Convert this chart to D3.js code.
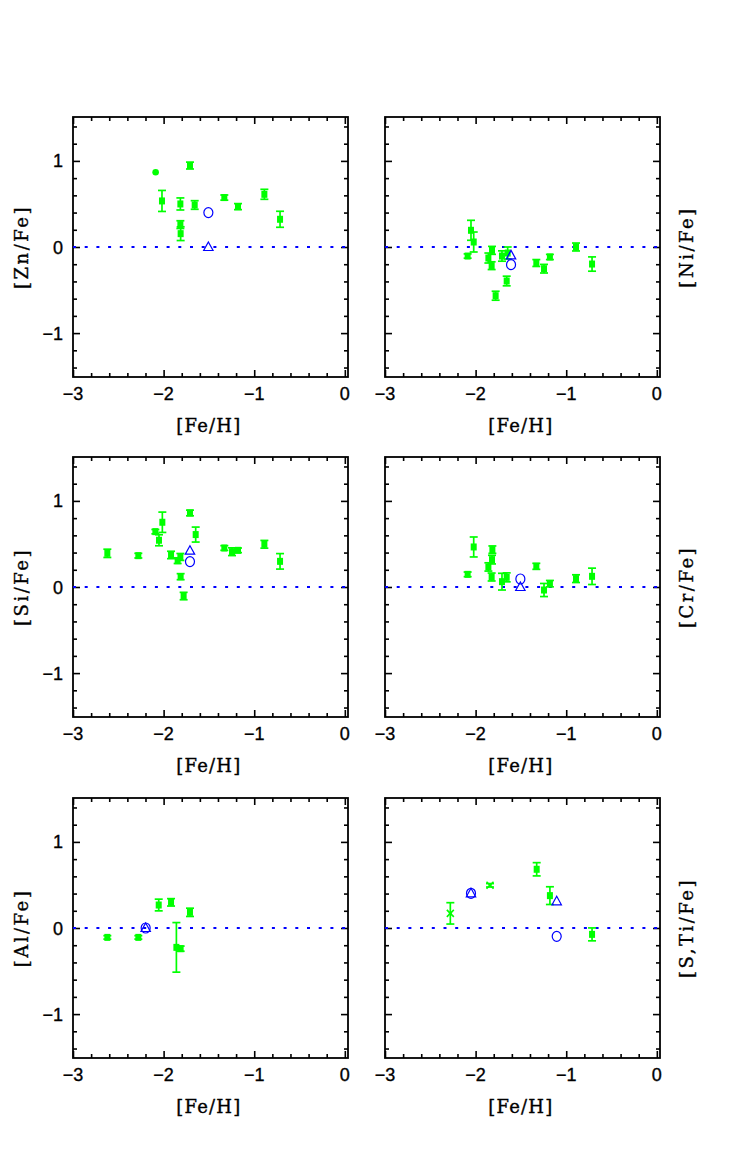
<!DOCTYPE html>
<html><head><meta charset="utf-8">
<script src="https://cdn.jsdelivr.net/npm/d3@7"></script>
<style>body{margin:0;background:#fff}svg{display:block}</style>
</head><body>
<script>
// ---- data: [ [Fe/H], [X/Fe], error ] ----
const xTicks = [-3, -2, -1, 0];
const yTicks = [-1, 0, 1];
const yLabels = ["[Zn/Fe]", "[Ni/Fe]", "[Si/Fe]", "[Cr/Fe]", "[Al/Fe]", "[S,Ti/Fe]"];

const znFe = [[-2.018,0.535,0.122],[-1.815,0.50,0.07],[-1.815,0.26,0.045],[-1.812,0.155,0.08],[-1.709,0.946,0.04],[-1.657,0.488,0.05],[-1.33,0.574,0.03],[-1.179,0.469,0.035],[-0.888,0.612,0.058],[-0.715,0.322,0.093]];
const znFeDot = [[-2.088,0.868]];
const znCircle = [[-1.506,0.40]];
const znTriangle = [[-1.506,0.0]];

const niFe = [[-2.088,-0.105,0.025],[-2.051,0.194,0.116],[-2.021,0.058,0.116],[-1.859,-0.128,0.058],[-1.819,-0.039,0.046],[-1.823,-0.217,0.045],[-1.779,-0.566,0.052],[-1.709,-0.105,0.06],[-1.657,-0.395,0.056],[-1.646,-0.07,0.07],[-1.33,-0.186,0.04],[-1.245,-0.252,0.05],[-1.18,-0.116,0.03],[-0.892,0.0,0.046],[-0.715,-0.198,0.083]];
const niCircle = [[-1.609,-0.205]];
const niTriangle = [[-1.609,-0.097]];

const siFe = [[-2.621,0.391,0.048],[-2.279,0.364,0.027],[-2.091,0.643,0.025],[-2.051,0.543,0.064],[-2.014,0.752,0.118],[-1.918,0.372,0.043],[-1.845,0.306,0.033],[-1.815,0.349,0.04],[-1.812,0.12,0.035],[-1.779,-0.105,0.043],[-1.709,0.86,0.033],[-1.646,0.609,0.087],[-1.33,0.453,0.027],[-1.245,0.41,0.045],[-1.179,0.426,0.027],[-0.888,0.496,0.045],[-0.715,0.298,0.09]];
const siCircle = [[-1.709,0.295]];
const siTriangle = [[-1.709,0.422]];

const crFe = [[-2.088,0.147,0.027],[-2.021,0.465,0.116],[-1.859,0.233,0.048],[-1.815,0.434,0.043],[-1.819,0.318,0.05],[-1.823,0.116,0.046],[-1.709,0.062,0.097],[-1.657,0.112,0.052],[-1.33,0.24,0.035],[-1.245,-0.035,0.076],[-1.18,0.039,0.037],[-0.892,0.097,0.045],[-0.715,0.124,0.095]];
const crCircle = [[-1.506,0.093]];
const crTriangle = [[-1.506,0.0]];

const alFe = [[-2.621,-0.109,0.02],[-2.279,-0.109,0.02],[-2.054,0.267,0.068],[-1.918,0.298,0.043],[-1.859,-0.225,0.288],[-1.812,-0.24,0.03],[-1.709,0.182,0.048]];
const alCircle = [[-2.198,0.0]];
const alTriangle = [[-2.198,0.0]];

const stiFe = [[-1.326,0.682,0.077],[-1.18,0.376,0.103],[-0.715,-0.074,0.075]];
const stiCross = [[-2.279,0.17,0.124],[-1.841,0.496,0.02]];
const stiCircle = [[-2.051,0.403],[-1.105,-0.097]];
const stiTriangle = [[-2.051,0.403],[-1.105,0.31]];

const panelData = [
  {sq: znFe, dot: znFeDot, circ: znCircle, tri: znTriangle, cross: []},
  {sq: niFe, dot: [], circ: niCircle, tri: niTriangle, cross: []},
  {sq: siFe, dot: [], circ: siCircle, tri: siTriangle, cross: []},
  {sq: crFe, dot: [], circ: crCircle, tri: crTriangle, cross: []},
  {sq: alFe, dot: [], circ: alCircle, tri: alTriangle, cross: []},
  {sq: stiFe, dot: [], circ: stiCircle, tri: stiTriangle, cross: stiCross}
];

// ---- layout ----
const W = 734, H = 1176;
const colLeft = [73, 385], pw = 275, ph = 260;
const rowTop = [117, 457, 798];
const GREEN = "#00ff00", BLUE = "#0000ff";
const TXT = "'DejaVu Serif', serif";
const NUM = "'Liberation Sans', Arial, sans-serif";

const svg = d3.select("body").append("svg").attr("width", W).attr("height", H);

panelData.forEach((pd, i) => {
  const col = i % 2, row = Math.floor(i / 2);
  const x0 = colLeft[col], y0 = rowTop[row];
  const g = svg.append("g").attr("transform", `translate(${x0},${y0})`);
  const x = d3.scaleLinear().domain([-3, 0.035]).range([0, pw]);
  const y = d3.scaleLinear().domain([-1.51, 1.51]).range([ph, 0]);

  const xMinor = d3.range(-3, 0.0001, 0.2).map(v => +v.toFixed(2)).filter(v => !xTicks.some(t => Math.abs(t - v) < 1e-6));
  const yMinor = d3.range(-1.4, 1.4001, 0.2).map(v => +v.toFixed(2)).filter(v => !yTicks.some(t => Math.abs(t - v) < 1e-6));

  const mk = (axis, tr) => g.append("g").attr("transform", tr).call(axis)
      .call(s => { s.select(".domain").remove(); s.selectAll("line").attr("stroke", "#000").attr("stroke-width", 1.6); s.selectAll("text").remove(); });
  mk(d3.axisBottom(x).tickValues(xTicks).tickSize(-7), `translate(0,${ph})`);
  mk(d3.axisBottom(x).tickValues(xMinor).tickSize(-4), `translate(0,${ph})`);
  mk(d3.axisTop(x).tickValues(xTicks).tickSize(-7), `translate(0,0)`);
  mk(d3.axisTop(x).tickValues(xMinor).tickSize(-4), `translate(0,0)`);
  mk(d3.axisLeft(y).tickValues(yTicks).tickSize(-7), `translate(0,0)`);
  mk(d3.axisLeft(y).tickValues(yMinor).tickSize(-4), `translate(0,0)`);
  mk(d3.axisRight(y).tickValues(yTicks).tickSize(-7), `translate(${pw},0)`);
  mk(d3.axisRight(y).tickValues(yMinor).tickSize(-4), `translate(${pw},0)`);

  g.append("rect").attr("width", pw).attr("height", ph).attr("fill", "none").attr("stroke", "#000").attr("stroke-width", 1.8);

  const txtStyle = s => s.attr("fill", "#000").attr("stroke", "#000").attr("stroke-width", 0.35);

  g.selectAll(".xl").data(xTicks).enter().append("text")
    .attr("x", d => x(d)).attr("y", ph + 23).attr("text-anchor", "middle")
    .attr("font-family", NUM).attr("font-size", 18).call(txtStyle)
    .text(d => d < 0 ? "\u2212" + Math.abs(d) : d);
  if (col === 0) {
    g.selectAll(".yl").data(yTicks).enter().append("text")
      .attr("x", -10).attr("y", d => y(d) + 6.5).attr("text-anchor", "end")
      .attr("font-family", NUM).attr("font-size", 18).call(txtStyle)
      .text(d => d < 0 ? "\u2212" + Math.abs(d) : d);
  }
  g.append("text").attr("x", x(-1.5)).attr("y", ph + 55).attr("text-anchor", "middle")
    .attr("font-family", TXT).attr("font-size", 18).attr("letter-spacing", 1.2).call(txtStyle).text("[Fe/H]");
  const tx = col === 0 ? -45 : pw + 33;
  g.append("text").attr("transform", `translate(${tx},${ph / 2}) rotate(-90)`)
    .attr("text-anchor", "middle").attr("font-family", TXT).attr("font-size", 18).attr("letter-spacing", 2.5).call(txtStyle)
    .text(yLabels[i]);

  g.append("line").attr("x1", 0).attr("x2", pw).attr("y1", y(0)).attr("y2", y(0))
    .attr("stroke", BLUE).attr("stroke-width", 2.2).attr("stroke-dasharray", "3,8.7");

  const errs = pd.sq.concat(pd.cross);
  const eb = g.append("g").attr("stroke", GREEN).attr("stroke-width", 1.7);
  errs.forEach(d => {
    const cx = x(d[0]), ya = y(d[1] + d[2]), yb = y(d[1] - d[2]);
    eb.append("line").attr("x1", cx).attr("x2", cx).attr("y1", ya).attr("y2", yb);
    eb.append("line").attr("x1", cx - 4).attr("x2", cx + 4).attr("y1", ya).attr("y2", ya);
    eb.append("line").attr("x1", cx - 4).attr("x2", cx + 4).attr("y1", yb).attr("y2", yb);
  });
  g.selectAll(".sq").data(pd.sq).enter().append("rect")
    .attr("x", d => x(d[0]) - 3).attr("y", d => y(d[1]) - 3.5).attr("width", 6).attr("height", 7).attr("fill", GREEN);
  g.selectAll(".dot").data(pd.dot).enter().append("circle")
    .attr("cx", d => x(d[0])).attr("cy", d => y(d[1])).attr("r", 3.3).attr("fill", GREEN);
  pd.cross.forEach(d => {
    const cx = x(d[0]), cy = y(d[1]);
    g.append("path").attr("d", `M${cx-3.5},${cy-3.5}L${cx+3.5},${cy+3.5}M${cx-3.5},${cy+3.5}L${cx+3.5},${cy-3.5}`)
      .attr("stroke", GREEN).attr("stroke-width", 1.6).attr("fill", "none");
    g.append("rect").attr("x", cx - 1.5).attr("y", cy - 1.5).attr("width", 3).attr("height", 3).attr("fill", GREEN);
  });
  g.selectAll(".oc").data(pd.circ).enter().append("ellipse")
    .attr("cx", d => x(d[0])).attr("cy", d => y(d[1])).attr("rx", 4.5).attr("ry", 5)
    .attr("fill", "none").attr("stroke", BLUE).attr("stroke-width", 1.2);
  g.selectAll(".tr").data(pd.tri).enter().append("path")
    .attr("d", d => { const cx = x(d[0]), cy = y(d[1]); return `M${cx},${cy-5}L${cx+4.7},${cy+3.5}L${cx-4.7},${cy+3.5}Z`; })
    .attr("fill", "none").attr("stroke", BLUE).attr("stroke-width", 1.2);
});
</script>
</body></html>
